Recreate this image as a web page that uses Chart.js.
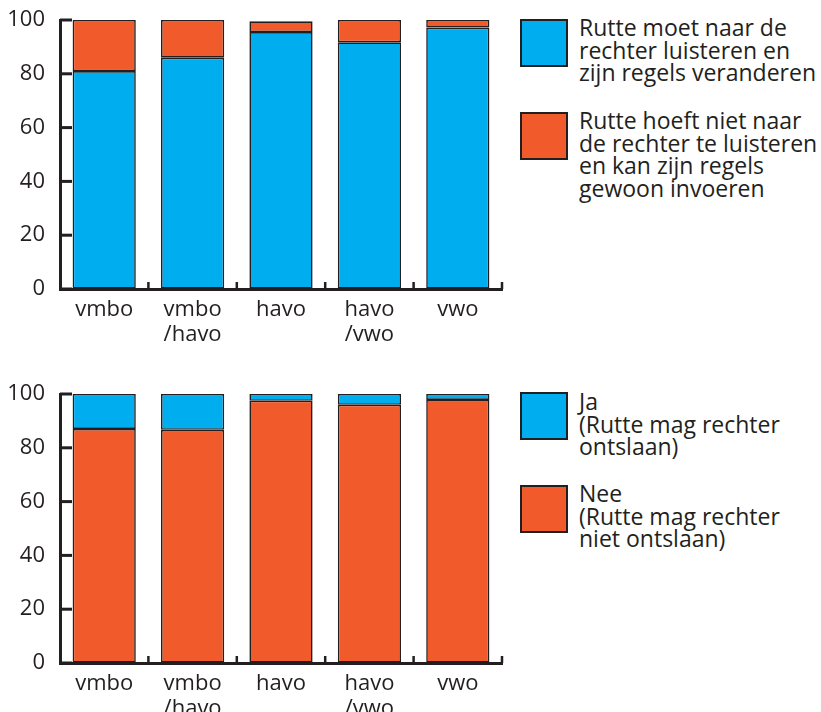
<!DOCTYPE html>
<html>
<head>
<meta charset="utf-8">
<script src="https://cdn.jsdelivr.net/npm/chart.js@4/dist/chart.umd.min.js"></script>
<style>
  body { margin: 0; background: #fff; width: 821px; height: 712px; position: relative; overflow: hidden; }
  .wrap { position: absolute; left: 0; width: 510px; }
  .legend { position: absolute; left: 520px; font-family: "Open Sans", sans-serif; font-size: 23px; line-height: 22.5px; color: #231f20; }
  .item { position: absolute; left: 0; white-space: nowrap; }
  .box { position: absolute; left: 0; width: 44px; height: 44px; border: 2px solid #231f20; }
  .txt { position: absolute; left: 59px; }
</style>
</head>
<body>
<div class="wrap" style="top:0;height:360px"><canvas id="chart1"></canvas></div>
<div class="wrap" style="top:374px;height:338px"><canvas id="chart2"></canvas></div>
<div class="legend" id="legend1" style="top:0"></div>
<div class="legend" id="legend2" style="top:374px"></div>
<script>
// categorieën en waarden (procent)
const categories = [['vmbo'], ['vmbo', '/havo'], ['havo'], ['havo', '/vwo'], ['vwo']];
const yTicks = [0, 20, 40, 60, 80, 100];

const luisteren = [81, 86, 95.5, 91.7, 97.2];
const nietLuisteren = [19, 14, 4, 8.3, 2.8];
const luisterenLabel = ['Rutte moet naar de', 'rechter luisteren en', 'zijn regels veranderen'];
const nietLuisterenLabel = ['Rutte hoeft niet naar', 'de rechter te luisteren', 'en kan zijn regels', 'gewoon invoeren'];

const ja = [13, 13.3, 2.5, 4, 2.2];
const nee = [87, 86.7, 97.5, 96, 97.8];
const jaLabel = ['Ja', '(Rutte mag rechter', 'ontslaan)'];
const neeLabel = ['Nee', '(Rutte mag rechter', 'niet ontslaan)'];

const blauw = '#00aeef';
const oranje = '#f15a2b';
const ink = '#231f20';

// korte streepjes naar binnen op de assen
const innerTicks = {
    id: 'innerTicks',
    beforeDatasetsDraw(chart) {
        const ctx = chart.ctx;
        const area = chart.chartArea;
        const y = chart.scales.y;
        const x = chart.scales.x;
        ctx.save();
        ctx.strokeStyle = ink;
        ctx.lineWidth = 3;
        yTicks.forEach(v => {
            const py = y.getPixelForValue(v);
            ctx.beginPath();
            ctx.moveTo(area.left, py);
            ctx.lineTo(area.left + 12, py);
            ctx.stroke();
        });
        ctx.lineWidth = 2.5;
        categories.forEach((c, i) => {
            const px = x.getPixelForValue(i + 0.5);
            ctx.beginPath();
            ctx.moveTo(px, area.bottom);
            ctx.lineTo(px, area.bottom - 7);
            ctx.stroke();
        });
        ctx.restore();
    }
};

function makeChart(id, sets, xHeight) {
    const font = { family: '"Open Sans", sans-serif', size: 22, lineHeight: 1.1 };
    return new Chart(document.getElementById(id), {
        type: 'bar',
        data: {
            labels: categories,
            datasets: sets.map(s => ({
                label: s.label.join(' '),
                data: s.data,
                backgroundColor: s.color,
                borderColor: ink,
                borderWidth: 1.6,
                borderSkipped: false,
                barPercentage: 0.715,
                categoryPercentage: 1
            }))
        },
        options: {
            responsive: true,
            maintainAspectRatio: false,
            animation: false,
            layout: { padding: { top: 20, right: 8, left: 0, bottom: 0 } },
            plugins: { legend: { display: false }, tooltip: { enabled: false } },
            scales: {
                x: {
                    stacked: true,
                    afterFit: s => { s.height = xHeight; },
                    grid: { display: false, drawTicks: false },
                    border: { display: true, color: ink, width: 3 },
                    ticks: { color: ink, font: font, padding: 9, maxRotation: 0 }
                },
                y: {
                    stacked: true,
                    min: 0,
                    max: 100,
                    afterFit: s => { s.width = 60; s.paddingTop = 10; s.paddingBottom = 10; },
                    afterBuildTicks: s => { s.ticks = yTicks.map(v => ({ value: v })); },
                    grid: { drawOnChartArea: false, drawTicks: false },
                    border: { display: true, color: ink, width: 3 },
                    ticks: { color: ink, font: font, padding: 15 }
                }
            }
        },
        plugins: [innerTicks]
    });
}

function makeLegend(id, items) {
    const el = document.getElementById(id);
    items.forEach(it => {
        const d = document.createElement('div');
        d.className = 'item';
        d.style.top = it.top + 'px';
        d.innerHTML = '<div class="box" style="top:' + it.boxTop + 'px;background:' + it.color + '"></div>' +
            '<div class="txt" style="top:' + it.textTop + 'px">' + it.label.join('<br>') + '</div>';
        el.appendChild(d);
    });
}

makeChart('chart1', [
    { label: luisterenLabel, data: luisteren, color: blauw },
    { label: nietLuisterenLabel, data: nietLuisteren, color: oranje }
], 71);

makeChart('chart2', [
    { label: neeLabel, data: nee, color: oranje },
    { label: jaLabel, data: ja, color: blauw }
], 49);

makeLegend('legend1', [
    { label: luisterenLabel, color: blauw, top: 0, boxTop: 19, textTop: 16 },
    { label: nietLuisterenLabel, color: oranje, top: 0, boxTop: 112, textTop: 109 }
]);
makeLegend('legend2', [
    { label: jaLabel, color: blauw, top: 0, boxTop: 18, textTop: 16 },
    { label: neeLabel, color: oranje, top: 0, boxTop: 111, textTop: 108 }
]);
</script>
</body>
</html>
